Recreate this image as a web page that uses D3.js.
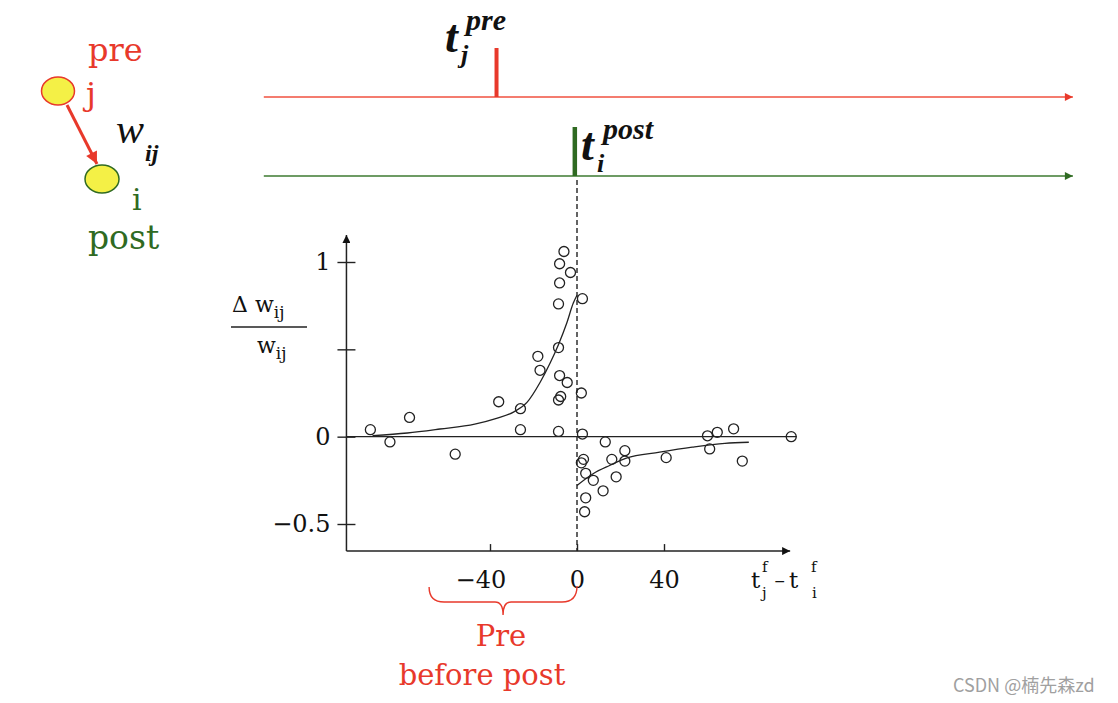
<!DOCTYPE html>
<html>
<head>
<meta charset="utf-8">
<script src="https://cdn.jsdelivr.net/npm/d3@7"></script>
<style>
  body { margin: 0; background: #fff; }
  svg { display: block; }
</style>
</head>
<body>
<svg id="chart"></svg>
<script>
'use strict';

var width = 1118, height = 703;

// measured points: [t_j - t_i (ms), dw/w]
var preBeforePost = [
  [-95, 0.04], [-86, -0.03], [-77, 0.11], [-56, -0.10], [-36, 0.20],
  [-26, 0.04], [-26, 0.16], [-18, 0.46], [-17, 0.38], [-8.5, 0.03],
  [-8.5, 0.21], [-7.5, 0.23], [-8, 0.35], [-4.5, 0.31], [-8.5, 0.51],
  [-8.5, 0.76], [-8, 0.88], [-8, 0.99], [-6, 1.06], [-3, 0.94],
  [2.5, 0.79], [2, 0.25], [2.5, 0.015]
];
var postBeforePre = [
  [13, -0.03], [3, -0.13], [2, -0.15], [4, -0.21], [7.5, -0.25],
  [12, -0.31], [4, -0.35], [3.5, -0.43], [16, -0.13], [18, -0.23],
  [22, -0.08], [22, -0.14], [41, -0.12], [60, 0.005], [64.5, 0.025],
  [72, 0.045], [61, -0.07], [76, -0.14], [98.5, 0]
];
// fitted curves
var ltpCurve = [
  [-94, 0.006], [-78, 0.021], [-63, 0.044], [-47, 0.072], [-37, 0.105],
  [-29, 0.142], [-23, 0.196], [-17, 0.31], [-12.3, 0.423], [-8.5, 0.528],
  [-4.7, 0.651], [-1.7, 0.765], [0, 0.81]
];
var ltdCurve = [
  [0, -0.279], [7.4, -0.212], [15, -0.165], [22.7, -0.123], [38, -0.089],
  [53, -0.06], [68, -0.038], [79, -0.032]
];

var xTicks = [-40, 0, 40];
var yTicks = [-0.5, 0, 0.5, 1];
var yTickLabels = ['\u22120.5', '0', '', '1'];

var xAxisExtent = [-106, 98];
var yAxisExtent = [-0.655, 1.155];
var zeroLineExtent = [-106, 101];
var timelineExtent = [-144, 228];
var preSpikeTime = -37;
var postSpikeTime = -1;
var braceExtent = [-68, 0];

var red = '#e8392b', green = '#2f6a22', yellow = '#f4f046';
var serif = 'Liberation Serif, Times New Roman, serif';
var roman = 'DejaVu Serif, serif';

var svg = d3.select('#chart')
  .attr('width', width)
  .attr('height', height);

var x = d3.scaleLinear().domain([-40, 40]).range([490, 664]);
var y = d3.scaleLinear().domain([-0.5, 1]).range([524, 262]);

var defs = svg.append('defs');
function addArrow(id, color, w, h) {
  defs.append('marker')
    .attr('id', id)
    .attr('viewBox', '0 0 10 10')
    .attr('refX', 10).attr('refY', 5)
    .attr('markerUnits', 'userSpaceOnUse')
    .attr('markerWidth', w).attr('markerHeight', h)
    .attr('orient', 'auto')
    .append('path')
    .attr('d', 'M0,0L10,5L0,10Z')
    .attr('fill', color);
}
addArrow('arrow-red', red, 11, 8);
addArrow('arrow-green', green, 11, 8);
addArrow('arrow-black', '#111', 13, 8);
addArrow('arrow-syn', red, 14, 12);

// ---- neuron diagram ----
var neuron = svg.append('g');
neuron.append('line')
  .attr('x1', 67).attr('y1', 105).attr('x2', 97).attr('y2', 164)
  .attr('stroke', red).attr('stroke-width', 3)
  .attr('marker-end', 'url(#arrow-syn)');
neuron.append('ellipse')
  .attr('cx', 58).attr('cy', 91).attr('rx', 16.5).attr('ry', 14)
  .attr('fill', yellow).attr('stroke', red).attr('stroke-width', 1.5);
neuron.append('ellipse')
  .attr('cx', 102).attr('cy', 179).attr('rx', 17).attr('ry', 14)
  .attr('fill', yellow).attr('stroke', green).attr('stroke-width', 1.5);

function label(g, txt, px, py, size, color, opts) {
  opts = opts || {};
  return g.append('text')
    .attr('x', px).attr('y', py)
    .attr('font-family', opts.family || roman)
    .attr('font-size', size)
    .attr('font-style', opts.italic ? 'italic' : null)
    .attr('font-weight', opts.bold ? 'bold' : null)
    .attr('text-anchor', opts.anchor || 'start')
    .attr('fill', color)
    .text(txt);
}
label(neuron, 'pre', 88, 61, 32, red);
label(neuron, 'j', 86, 105, 32, red);
label(neuron, 'w', 116, 143, 42, '#111', {family: serif, italic: true});
label(neuron, 'ij', 145, 161, 24, '#111', {family: serif, italic: true, bold: true});
label(neuron, 'i', 132, 210, 30, green);
label(neuron, 'post', 88, 249, 33, green);

// ---- spike timelines ----
var lines = svg.append('g');
lines.append('line')
  .attr('x1', x(timelineExtent[0])).attr('x2', x(timelineExtent[1]))
  .attr('y1', 97).attr('y2', 97)
  .attr('stroke', '#f0503f').attr('stroke-width', 1.5)
  .attr('marker-end', 'url(#arrow-red)');
lines.append('line')
  .attr('x1', x(preSpikeTime)).attr('x2', x(preSpikeTime))
  .attr('y1', 48).attr('y2', 97)
  .attr('stroke', red).attr('stroke-width', 4);
lines.append('line')
  .attr('x1', x(timelineExtent[0])).attr('x2', x(timelineExtent[1]))
  .attr('y1', 176).attr('y2', 176)
  .attr('stroke', '#3d7a30').attr('stroke-width', 1.5)
  .attr('marker-end', 'url(#arrow-green)');
lines.append('line')
  .attr('x1', x(postSpikeTime)).attr('x2', x(postSpikeTime))
  .attr('y1', 127).attr('y2', 176)
  .attr('stroke', green).attr('stroke-width', 4.5);

var tOpts = {family: serif, italic: true, bold: true};
label(lines, 't', 445, 52, 46, '#111', tOpts);
label(lines, 'pre', 466, 30, 30, '#111', tOpts);
label(lines, 'j', 461, 63, 26, '#111', tOpts);
label(lines, 't', 581, 160, 46, '#111', tOpts);
label(lines, 'post', 603, 139, 30, '#111', tOpts);
label(lines, 'i', 597, 172, 26, '#111', tOpts);

// ---- STDP plot ----
var plot = svg.append('g');

plot.append('line')
  .attr('x1', x(0)).attr('x2', x(0))
  .attr('y1', 180).attr('y2', y(yAxisExtent[0]))
  .attr('stroke', '#222').attr('stroke-width', 1.4)
  .attr('stroke-dasharray', '5,3');

plot.append('line')
  .attr('x1', x(zeroLineExtent[0])).attr('x2', x(zeroLineExtent[1]))
  .attr('y1', y(0)).attr('y2', y(0))
  .attr('stroke', '#222').attr('stroke-width', 1.3);

var yAxis = d3.axisLeft(y)
  .tickValues(yTicks)
  .tickSizeInner(9)
  .tickSizeOuter(0)
  .tickPadding(7)
  .tickFormat(function (d, i) { return yTickLabels[i]; });
var xAxis = d3.axisBottom(x)
  .tickValues(xTicks)
  .tickSizeInner(-7)
  .tickSizeOuter(0)
  .tickPadding(20)
  .tickFormat(d3.format(''));

var yAxisG = plot.append('g')
  .attr('transform', 'translate(' + x(xAxisExtent[0]) + ',0)')
  .call(yAxis);
yAxisG.select('.domain').remove();
yAxisG.selectAll('.tick line').attr('x1', 9).attr('stroke', '#222').attr('stroke-width', 1.4);

var xAxisG = plot.append('g')
  .attr('transform', 'translate(0,' + y(yAxisExtent[0]) + ')')
  .call(xAxis);
xAxisG.select('.domain').remove();
xAxisG.selectAll('.tick line').attr('stroke', '#222').attr('stroke-width', 1.4);
xAxisG.selectAll('.tick text')
  .attr('dx', function (d) { return d < 0 ? '-0.4em' : null; });

[yAxisG, xAxisG].forEach(function (g) {
  g.attr('font-family', roman).attr('font-size', 24);
  g.selectAll('text').attr('fill', '#111');
});

plot.append('line')
  .attr('x1', x(xAxisExtent[0])).attr('x2', x(xAxisExtent[0]))
  .attr('y1', y(yAxisExtent[0])).attr('y2', y(yAxisExtent[1]))
  .attr('stroke', '#222').attr('stroke-width', 1.5)
  .attr('marker-end', 'url(#arrow-black)');
plot.append('line')
  .attr('x1', x(xAxisExtent[0])).attr('x2', x(xAxisExtent[1]))
  .attr('y1', y(yAxisExtent[0])).attr('y2', y(yAxisExtent[0]))
  .attr('stroke', '#222').attr('stroke-width', 1.5)
  .attr('marker-end', 'url(#arrow-black)');

var curve = d3.line()
  .x(function (d) { return x(d[0]); })
  .y(function (d) { return y(d[1]); })
  .curve(d3.curveMonotoneX);
plot.selectAll('path.fit')
  .data([ltpCurve, ltdCurve])
  .enter().append('path')
  .classed('fit', true)
  .attr('d', curve)
  .attr('fill', 'none')
  .attr('stroke', '#222')
  .attr('stroke-width', 1.3);

plot.selectAll('circle.obs')
  .data(preBeforePost.concat(postBeforePre))
  .enter().append('circle')
  .classed('obs', true)
  .attr('cx', function (d) { return x(d[0]); })
  .attr('cy', function (d) { return y(d[1]); })
  .attr('r', 5)
  .attr('fill', 'none')
  .attr('stroke', '#222')
  .attr('stroke-width', 1.3);

// axis titles
var yl = plot.append('g');
var dw = yl.append('text').attr('x', 232).attr('y', 312)
  .attr('font-family', roman).attr('font-size', 22).attr('fill', '#111');
dw.append('tspan').text('\u0394 w');
dw.append('tspan').attr('font-size', 17).attr('dy', 6).text('ij');
yl.append('line')
  .attr('x1', 231).attr('x2', 307).attr('y1', 327).attr('y2', 327)
  .attr('stroke', '#222').attr('stroke-width', 1.4);
var wv = yl.append('text').attr('x', 257).attr('y', 353)
  .attr('font-family', roman).attr('font-size', 22).attr('fill', '#111');
wv.append('tspan').text('w');
wv.append('tspan').attr('font-size', 17).attr('dy', 6).text('ij');

var xl = plot.append('g');
label(xl, 't', 751, 588, 23, '#111');
label(xl, 'f', 762, 572, 15, '#111');
label(xl, 'j', 762, 598, 15, '#111');
label(xl, '\u2212', 774, 586, 14, '#111');
label(xl, 't', 789, 588, 23, '#111');
label(xl, 'f', 811, 572, 15, '#111');
label(xl, 'i', 812, 598, 15, '#111');

// brace under the negative side
var bx0 = x(braceExtent[0]), bx1 = x(braceExtent[1]), bm = (bx0 + bx1) / 2;
plot.append('path')
  .attr('d', 'M' + bx0 + ',587 Q' + bx0 + ',602 ' + (bx0 + 15) + ',602' +
    ' L' + (bm - 8) + ',602 Q' + bm + ',602 ' + bm + ',615' +
    ' Q' + bm + ',602 ' + (bm + 8) + ',602' +
    ' L' + (bx1 - 15) + ',602 Q' + bx1 + ',602 ' + bx1 + ',586')
  .attr('fill', 'none')
  .attr('stroke', red)
  .attr('stroke-width', 1.4);
label(plot, 'Pre', 501, 646, 29, red, {anchor: 'middle'});
label(plot, 'before post', 482, 685, 29, red, {anchor: 'middle'});

// watermark
svg.append('text')
  .attr('x', 953).attr('y', 692)
  .attr('font-family', 'Noto Sans CJK SC, Noto Sans, sans-serif')
  .attr('font-size', 18)
  .attr('fill', '#a0a0a0')
  .text('CSDN @楠先森zd');
</script>
</body>
</html>
